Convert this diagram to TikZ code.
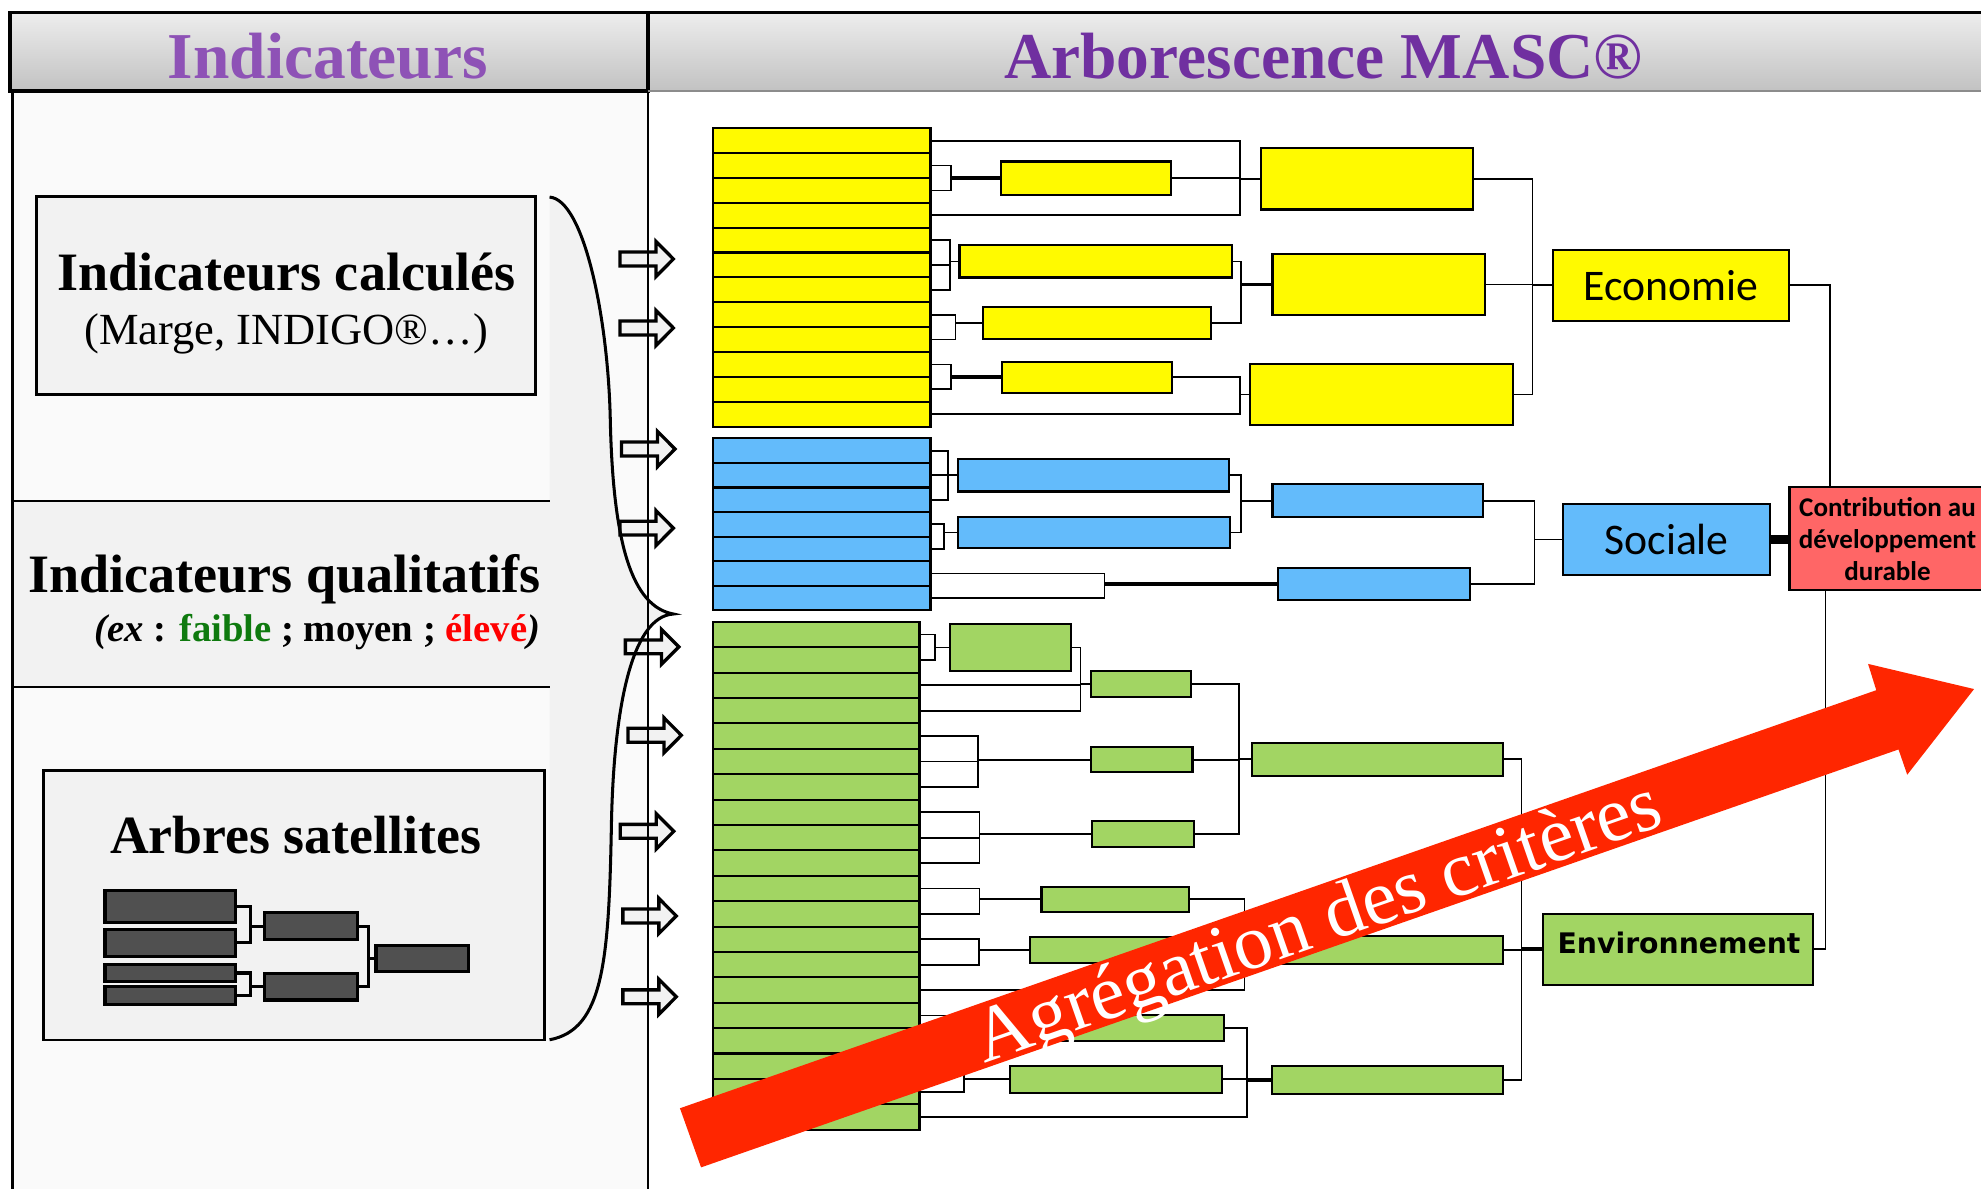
\documentclass[tikz,border=0pt]{standalone}
\usepackage{fontspec}
\setmainfont{Liberation Serif}
\newfontfamily\calib{Carlito}
\newfontfamily\verd{DejaVu Sans}
\usetikzlibrary{calc}
\definecolor{yel}{RGB}{255,250,0}
\definecolor{blu}{RGB}{99,187,251}
\definecolor{gre}{RGB}{162,213,99}
\definecolor{sal}{RGB}{255,102,102}
\definecolor{purA}{RGB}{142,82,182}
\definecolor{purB}{RGB}{112,48,160}
\definecolor{arrred}{RGB}{255,38,0}
\definecolor{fgreen}{RGB}{14,122,14}
\definecolor{mgray}{RGB}{80,80,80}
\definecolor{panel}{RGB}{250,250,250}
\definecolor{panelB}{RGB}{242,242,242}
\newcommand\bx[7]{\node[#6, minimum width={(#4-#2)*0.5pt}, minimum height={(#5-#3)*0.5pt}] (#1) at ({(#2+#4)/2},{(#3+#5)/2}) {#7};}
\newcommand\lk[4][]{\draw[conn,#1] (#2.east) -| (#4,0 |- #3.west) -- (#3.west);}
\newcommand\barrow[2]{\coordinate (#1) at #2; \draw[barr] (#1) ++(0,-5.5) -- ++(28.5,0) -- ++(0,-8.4) -- ++(13.8,13.9) -- ++(-13.8,13.9) -- ++(0,-8.4) -- ++(-28.5,0) -- cycle;}
\begin{document}
\begin{tikzpicture}[x=0.5pt,y=-0.5pt,line join=miter,
  box/.style={draw, line width=0.85pt, inner sep=0pt, outer sep=0pt},
  yl/.style={box, fill=yel},
  bl/.style={box, fill=blu},
  gl/.style={box, fill=gre},
  mini/.style={draw, line width=1.2pt, fill=mgray, inner sep=0pt, outer sep=0pt},
  conn/.style={line width=0.7pt},
  thk/.style={line width=1.5pt},
  barr/.style={draw, fill=panelB, line width=1.3pt}]
\useasboundingbox (0,0) rectangle (1568,941);
\fill[white] (0,0) rectangle (1568,941);
% left panel
\fill[panel] (10,72) rectangle (513,941);
\fill[panelB] (10,396.5) rectangle (435,543.6);
\fill[panelB] (435,156) .. controls (462,158) and (481,250) .. (483,330) .. controls (485,430) and (500,480) .. (533,486) .. controls (500,488) and (486,560) .. (484,650) .. controls (482,760) and (478,815) .. (435,823) -- cycle;
\draw[line width=1pt] (10,396.5) -- (435,396.5);
\draw[line width=1pt] (10,543.6) -- (435,543.6);
\bx{calc}{29}{155.4}{423.7}{312.3}{draw, line width=1.1pt, fill=panelB, inner sep=0pt}{}
\bx{sat}{34.3}{610}{430.7}{823.2}{draw, line width=1.1pt, fill=panelB, inner sep=0pt}{}
\node[anchor=base, font=\bfseries\fontsize{21.4}{25}\selectfont] (t1) at (226.5,229.8) {Indicateurs calculés};
\node[anchor=base, font=\fontsize{17.6}{21}\selectfont] (t2) at (226.5,272.8) {(Marge, INDIGO®…)};
\node[anchor=base, font=\bfseries\fontsize{21.4}{25}\selectfont] (t3) at (225.3,469.2) {Indicateurs qualitatifs};
\node[anchor=base, font=\bfseries\fontsize{15.3}{18}\selectfont] (t4) at (251.2,507.5) {\textit{(ex} : \textcolor{fgreen}{faible} ; moyen ; \textcolor{red}{élevé}\textit{)}};
\node[anchor=base, font=\bfseries\fontsize{21.3}{25}\selectfont] (t5) at (234,675.4) {Arbres satellites};
% mini tree
\bx{m1}{83.1}{705}{186.2}{730.3}{mini}{}
\bx{m2}{83.1}{735.6}{186.2}{756.7}{mini}{}
\bx{m3}{83.1}{763.3}{186.2}{777}{mini}{}
\bx{m4}{83.1}{781}{186.2}{794.7}{mini}{}
\bx{m5}{209.5}{722.4}{282.7}{744}{mini}{}
\bx{m6}{209.5}{770.9}{282.7}{791.5}{mini}{}
\bx{m7}{297.6}{748.5}{370.8}{769.1}{mini}{}
\lk[line width=1.2pt]{m1}{m5}{197.9}
\lk[line width=1.2pt]{m2}{m5}{197.9}
\lk[line width=1.2pt]{m3}{m6}{197.9}
\lk[line width=1.2pt]{m4}{m6}{197.9}
\lk[line width=1.2pt]{m5}{m7}{291.6}
\lk[line width=1.2pt]{m6}{m7}{291.6}
% block arrows
\barrow{a1}{(490.7,205)}
\barrow{a2}{(490.7,259.6)}
\barrow{a3}{(492,355.4)}
\barrow{a4}{(490.7,418)}
\barrow{a5}{(495,512)}
\barrow{a6}{(497,582)}
\barrow{a7}{(491,658)}
\barrow{a8}{(493,725)}
\barrow{a9}{(493,789)}
\draw[line width=1.2pt] (435,156) .. controls (462,158) and (481,250) .. (483,330) .. controls (485,430) and (500,480) .. (533,486) .. controls (500,488) and (486,560) .. (484,650) .. controls (482,760) and (478,815) .. (435,823);
\draw[line width=1pt] (10,72) -- (10,941);
\draw[line width=1pt] (513,72) -- (513,941);
% header
\shade[top color=black!7, middle color=black!17, bottom color=black!24] (8,10) rectangle (513,72);
\shade[top color=black!7, middle color=black!17, bottom color=black!24] (513,10) rectangle (1580,72);
\draw[line width=1.3pt] (8,10) rectangle (513,72);
\draw[line width=1.3pt] (513,10) -- (1580,10);
\draw[line width=0.8pt, black!45] (513,72) -- (1580,72);
\node[anchor=base, text=purA, font=\bfseries\fontsize{25.9}{30}\selectfont] (h1) at (259.5,62) {Indicateurs};
\node[anchor=base, text=purB, font=\bfseries\fontsize{25.9}{30}\selectfont] (h2) at (1047.5,62) {Arborescence MASC®};
% leaves
\foreach \i in {1,...,12}{\node[yl, minimum width=86pt, minimum height=9.84pt] (r\i) at (650.5,{101.5+(\i-0.5)*19.68}) {};}
\foreach \i in {1,...,7}{\node[bl, minimum width=86pt, minimum height=9.715pt] (b\i) at (650.5,{347+(\i-0.5)*19.43}) {};}
\foreach \i in {1,...,20}{\node[gl, minimum width=81.65pt, minimum height=10.05pt] (g\i) at (646.15,{492.2+(\i-0.5)*20.1}) {};}
% yellow
\bx{ya}{792.2}{127.8}{926.8}{154.2}{yl}{}
\bx{yb}{759.4}{194.2}{975.4}{219.6}{yl}{}
\bx{yc}{778.1}{243.3}{958.6}{268.2}{yl}{}
\bx{yd}{792.9}{286.6}{927.9}{310.8}{yl}{}
\bx{Ya}{998.4}{117.2}{1165.8}{165.8}{yl}{}
\bx{Yb}{1007.2}{201.3}{1175.1}{249}{yl}{}
\bx{Yc}{989.2}{288}{1197.4}{336.5}{yl}{}
\bx{eco}{1229.4}{197.9}{1415.7}{253.8}{yl,font=\calib\fontsize{17.3}{20}\selectfont}{Economie}
\lk{r2}{ya}{752.9} \lk{r3}{ya}{752.9}
\lk{r1}{Ya}{981.6} \lk{ya}{Ya}{981.6} \lk{r4}{Ya}{981.6}
\lk{r5}{yb}{752.2} \lk{r6}{yb}{752.2} \lk{r7}{yb}{752.2}
\lk{r8}{yc}{756.2} \lk{r9}{yc}{756.2}
\lk{yb}{Yb}{982.5} \lk{yc}{Yb}{982.5}
\lk{r10}{yd}{752.9} \lk{r11}{yd}{752.9}
\lk{yd}{Yc}{981.6} \lk{r12}{Yc}{981.6}
\lk{Ya}{eco}{1212.9} \lk{Yb}{eco}{1212.9} \lk{Yc}{eco}{1212.9}
\draw[thk] (752.9,0 |- ya.west) -- (ya.west);
\draw[thk] (982.5,0 |- Yb.west) -- (Yb.west);
\draw[thk] (752.9,0 |- yd.west) -- (yd.west);
% blue
\bx{ba}{758.5}{363.5}{972.9}{389}{bl}{}
\bx{bb}{758.5}{409.2}{973.5}{433.6}{bl}{}
\bx{Ba}{1007.2}{383.2}{1174}{409.4}{bl}{}
\bx{Bb}{1011.5}{449.4}{1163.7}{475}{bl}{}
\bx{soc}{1237}{398.9}{1401.3}{455.1}{bl,font=\calib\fontsize{17.3}{20}\selectfont}{Sociale}
\lk{b1}{ba}{750.3} \lk{b2}{ba}{750.3} \lk{b3}{ba}{750.3}
\lk{b4}{bb}{747} \lk{b5}{bb}{747}
\lk{ba}{Ba}{982} \lk{bb}{Ba}{982}
\lk{b6}{Bb}{874.3} \lk{b7}{Bb}{874.3}
\draw[thk] (874.3,0 |- Bb.west) -- (Bb.west);
\lk{Ba}{soc}{1214.6} \lk{Bb}{soc}{1214.6}
% green
\bx{ga}{751.9}{494.2}{848}{530.8}{gl}{}
\bx{gb}{863.5}{530.8}{942.5}{551.6}{gl}{}
\bx{gc}{863.5}{591.5}{943.9}{611}{gl}{}
\bx{gd}{864.5}{649.7}{944.8}{670.6}{gl}{}
\bx{ge}{824.4}{701.8}{941}{721.7}{gl}{}
\bx{gf}{815.2}{741.5}{975}{762}{gl}{}
\bx{gg}{800}{803.5}{968.8}{824.3}{gl}{}
\bx{gh}{799.4}{843.7}{967}{864.9}{gl}{}
\bx{Ga}{990.8}{587.9}{1189.5}{614.1}{gl}{}
\bx{Gb}{995}{741}{1189.5}{762.7}{gl}{}
\bx{Gc}{1006.6}{843.5}{1189.5}{865.9}{gl}{}
\bx{env}{1221.5}{723.2}{1435.3}{779.6}{gl}{}
\lk{g1}{ga}{739.8} \lk{g2}{ga}{739.8}
\lk{ga}{gb}{855.2} \lk{g3}{gb}{855.2} \lk{g4}{gb}{855.2}
\lk{g5}{gc}{774.2} \lk{g6}{gc}{774.2} \lk{g7}{gc}{774.2}
\lk{g8}{gd}{775.2} \lk{g9}{gd}{775.2} \lk{g10}{gd}{775.2}
\lk{gb}{Ga}{980.6} \lk{gc}{Ga}{980.6} \lk{gd}{Ga}{980.6}
\lk{g11}{ge}{775.2} \lk{g12}{ge}{775.2}
\lk{g13}{gf}{774.9} \lk{g14}{gf}{774.9}
\lk{ge}{Gb}{985} \lk{gf}{Gb}{985} \lk{g15}{Gb}{985}
\lk{g16}{gg}{760} \lk{g17}{gg}{760}
\lk{g18}{gh}{763} \lk{g19}{gh}{763}
\lk{gg}{Gc}{987} \lk{gh}{Gc}{987} \lk{g20}{Gc}{987}
\draw[thk] (987,0 |- Gc.west) -- (Gc.west);
\lk{Ga}{env}{1204.3} \lk{Gb}{env}{1204.3} \lk{Gc}{env}{1204.3}
\draw[thk] (1204.3,0 |- env.west) -- (env.west);
\node[anchor=base, font=\verd\bfseries\fontsize{11.2}{13}\selectfont] (envt) at (1329,754.4) {Environnement};
% contribution
\bx{cdd}{1416.4}{385.6}{1580}{467.2}{box, fill=sal}{}
\node[font=\calib\bfseries\fontsize{10.7}{12.65}\selectfont, align=center, inner sep=0pt] (cddt) at (1494,427) {Contribution au\\développement\\durable};
\draw[conn] (eco.east) -| ($(cdd.north west)+(32,0)$);
\draw[conn] (env.east) -| ($(cdd.south west)+(28.5,0)$);
\draw[line width=3.5pt] (soc.east) -- (soc.east -| cdd.west);
% big red arrow
\fill[arrred] (538.2,877.2) -- (1485.1,546.3) -- (1478.6,525.5) -- (1562.5,545.4) -- (1509.6,613.2) -- (1502.7,593.2) -- (554.9,924) -- cycle;
\node[rotate=19.3, anchor=base, text=white, font=\fontsize{30.8}{36}\selectfont, inner sep=0pt] (agg) at (1049,747) {Agrégation des critères};
\end{tikzpicture}
\end{document}
